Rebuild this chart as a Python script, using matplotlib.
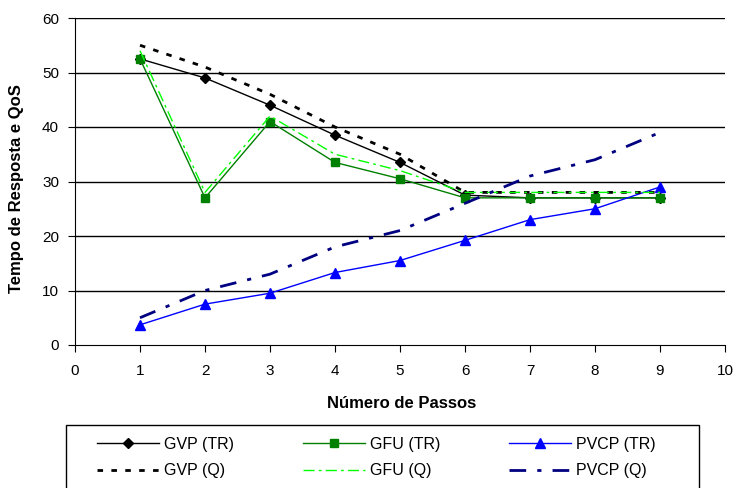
import matplotlib.pyplot as plt
from matplotlib.patches import Rectangle

plt.rcParams['font.family'] = ['Liberation Sans', 'DejaVu Sans']

passos = [1, 2, 3, 4, 5, 6, 7, 8, 9]
gvp_tr = [52.5, 49, 44, 38.5, 33.5, 27.5, 27, 27, 27]
gfu_tr = [52.5, 27, 41, 33.5, 30.5, 27, 27, 27, 27]
pvcp_tr = [3.7, 7.5, 9.5, 13.3, 15.5, 19.2, 23, 25, 29]
gvp_q = [55, 51, 46, 40, 35, 28, 28, 28, 28]
gfu_q = [54, 28, 42, 35, 32, 28, 28, 28, 28]
pvcp_q = [5, 10, 13, 18, 21, 26, 31, 34, 39]

fig = plt.figure(figsize=(7.37, 4.88), dpi=100)
ax = fig.add_axes([75/737, 1-345/488, 650/737, 327/488])

for y in range(10, 70, 10):
    ax.axhline(y, color='black', lw=1, zorder=0)

l1, = ax.plot(passos, gvp_tr, color='black', lw=1, marker='D', ms=5, label='GVP (TR)')
l2, = ax.plot(passos, gfu_tr, color='#008000', lw=1, marker='s', ms=6, label='GFU (TR)')
l3, = ax.plot(passos, pvcp_tr, color='#0000ff', lw=1, marker='^', ms=7, label='PVCP (TR)')
l4, = ax.plot(passos, gvp_q, color='black', lw=2, ls=(0, (2, 3)), label='GVP (Q)')
l5, = ax.plot(passos, gfu_q, color='#00ff00', lw=1, ls=(0, (8, 3, 2, 3)), label='GFU (Q)')
l6, = ax.plot(passos, pvcp_q, color='#000080', lw=2, ls=(0, (6, 4, 1.5, 4)), label='PVCP (Q)')

ax.set_xlim(0, 10)
ax.set_ylim(0, 60)
ax.set_xticks(range(0, 11))
ax.set_yticks(range(0, 70, 10))
ax.spines['top'].set_visible(False)
ax.spines['right'].set_visible(False)
ax.tick_params(labelsize=11, direction='out', length=5)
ax.tick_params(axis='x', pad=9)
ax.tick_params(axis='y', pad=6.5)
ax.set_xlabel('Número de Passos', fontsize=12, fontweight='bold')
ax.set_ylabel('Tempo de Resposta e QoS', fontsize=12, fontweight='bold')
ax.xaxis.set_label_coords(0.502, -(404 - 345) / 327, transform=ax.transAxes)
ax.yaxis.set_label_coords(-(75 - 17) / 650, (345 - 189) / 327, transform=ax.transAxes)
ax.xaxis.label.set_va('center')
ax.yaxis.label.set_va('center')

# legend frame drawn by hand so it can run off the bottom like the original
fig.patches.append(Rectangle((66/737, -0.05), 633/737, 0.05 + 63/488,
                             transform=fig.transFigure, fill=False,
                             edgecolor='black', lw=1))
fig.legend([l1, l4, l2, l5, l3, l6],
           ['GVP (TR)', 'GVP (Q)', 'GFU (TR)', 'GFU (Q)', 'PVCP (TR)', 'PVCP (Q)'],
           ncol=3, loc='upper left', bbox_to_anchor=(97/737, 1-437/488),
           fontsize=11.5, frameon=False, borderpad=0, borderaxespad=0,
           handlelength=3.9, handletextpad=0.3, labelspacing=0.7,
           columnspacing=4.3)

fig.savefig('out.png', dpi=100)
